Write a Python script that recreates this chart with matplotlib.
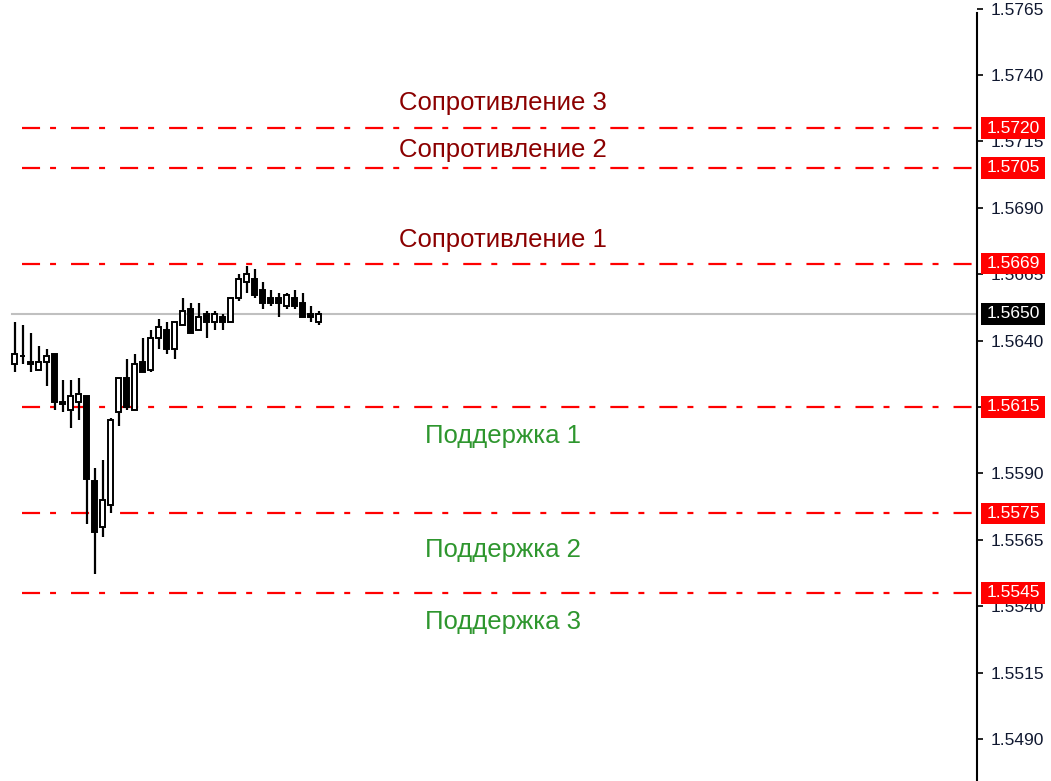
import matplotlib
matplotlib.use("Agg")
import matplotlib.pyplot as plt
from matplotlib.patches import Rectangle

plt.rcParams['font.family'] = ['Liberation Sans', 'DejaVu Sans']
plt.rcParams['lines.scale_dashes'] = False

# свечи: open, high, low, close
opens  = [1.5631, 1.5634, 1.5632, 1.5629, 1.5632, 1.5635, 1.5617, 1.5614, 1.5617, 1.5619,
          1.5587, 1.5570, 1.5578, 1.5613, 1.5626, 1.5614, 1.5632, 1.5629, 1.5641, 1.5644,
          1.5637, 1.5646, 1.5652, 1.5644, 1.5650, 1.5647, 1.5649, 1.5647, 1.5656, 1.5662,
          1.5663, 1.5659, 1.5656, 1.5656, 1.5653, 1.5656, 1.5654, 1.5650, 1.5647]
highs  = [1.5647, 1.5646, 1.5643, 1.5638, 1.5637, 1.5635, 1.5625, 1.5625, 1.5626, 1.5619,
          1.5592, 1.5595, 1.5611, 1.5626, 1.5633, 1.5635, 1.5641, 1.5644, 1.5648, 1.5647,
          1.5647, 1.5656, 1.5654, 1.5654, 1.5651, 1.5651, 1.5650, 1.5656, 1.5665, 1.5668,
          1.5667, 1.5662, 1.5659, 1.5658, 1.5658, 1.5659, 1.5658, 1.5653, 1.5651]
lows   = [1.5628, 1.5631, 1.5628, 1.5629, 1.5623, 1.5614, 1.5613, 1.5607, 1.5610, 1.5571,
          1.5552, 1.5566, 1.5575, 1.5608, 1.5614, 1.5614, 1.5628, 1.5628, 1.5637, 1.5635,
          1.5633, 1.5646, 1.5643, 1.5644, 1.5641, 1.5644, 1.5644, 1.5647, 1.5655, 1.5658,
          1.5656, 1.5652, 1.5653, 1.5649, 1.5652, 1.5652, 1.5649, 1.5647, 1.5646]
closes = [1.5635, 1.5634, 1.5631, 1.5632, 1.5634, 1.5617, 1.5616, 1.5619, 1.5620, 1.5588,
          1.5568, 1.5580, 1.5610, 1.5626, 1.5615, 1.5631, 1.5628, 1.5641, 1.5645, 1.5637,
          1.5647, 1.5651, 1.5643, 1.5649, 1.5647, 1.5650, 1.5647, 1.5656, 1.5663, 1.5665,
          1.5657, 1.5654, 1.5654, 1.5654, 1.5657, 1.5653, 1.5649, 1.5649, 1.5650]

current_price = 1.5650

resist_levels = [1.5720, 1.5705, 1.5669]
support_levels = [1.5615, 1.5575, 1.5545]
resist_names = ['Сопротивление 3', 'Сопротивление 2', 'Сопротивление 1']
support_names = ['Поддержка 1', 'Поддержка 2', 'Поддержка 3']
resist_text_y = [1.57294, 1.57117, 1.56779]
support_text_y = [1.56041, 1.55612, 1.55341]
text_x = 61.0

yticks = [1.5765, 1.5740, 1.5715, 1.5690, 1.5665, 1.5640, 1.5615,
          1.5590, 1.5565, 1.5540, 1.5515, 1.5490]

fig = plt.figure(figsize=(10.51, 7.81), dpi=100)
ax = fig.add_axes([0, 0, 977 / 1051, 1])

x = list(range(len(opens)))
xmin = -14.7 / 8
ax.set_xlim(xmin, xmin + 977 / 8)
ax.set_ylim(1.54742, 1.57682)

# текущая цена
ax.axhline(current_price, xmin=(11.5 / 977), color='#c0c0c0', lw=1.5, zorder=1)

# уровни
dash = (0, (13, 7.2, 4.3, 10.8))
for lv in resist_levels + support_levels:
    ax.hlines(lv, 0.9, xmin + 977 / 8, colors='#ff0000', lw=1.6, linestyles=[dash], zorder=1)

# свечи
for i in x:
    o, h, l, c = opens[i], highs[i], lows[i], closes[i]
    ax.vlines(i, l, h, colors='black', lw=1.6, zorder=2)
    bottom = min(o, c)
    height = max(abs(c - o), 0.00003)
    fc = 'white' if c > o else 'black'
    ax.bar(i, height, bottom=bottom, width=0.62, color=fc, edgecolor='black',
           linewidth=1.4, zorder=3)

for name, y in zip(resist_names, resist_text_y):
    ax.text(text_x, y, name, color='#8b0000', fontsize=18.5, ha='center', va='center')
for name, y in zip(support_names, support_text_y):
    ax.text(text_x, y, name, color='#2e962e', fontsize=18.5, ha='center', va='center')

# ось справа
for s in ['left', 'top', 'bottom']:
    ax.spines[s].set_visible(False)
ax.spines['right'].set_linewidth(1.5)
ax.spines['right'].set_bounds(1.54742, 1.57633)
ax.set_xticks([])
ax.yaxis.tick_right()
ax.set_yticks(yticks)
ax.set_yticklabels(['%.4f' % t for t in yticks])
ax.tick_params(axis='y', length=4, width=1.2, pad=6, labelsize=12.5, labelcolor='#101830')

# метки уровней
trans = ax.get_yaxis_transform()
box_h = 0.00080
box_x0, box_w = 981 / 977, 64 / 977


def price_box(lv, color):
    ax.add_patch(Rectangle((box_x0, lv - box_h / 2), box_w, box_h, transform=trans,
                           facecolor=color, edgecolor='none', clip_on=False, zorder=5))
    ax.text(box_x0 + box_w / 2, lv, '%.4f' % lv, transform=trans, color='white',
            fontsize=12.5, ha='center', va='center', zorder=6, clip_on=False)


for lv in resist_levels + support_levels:
    price_box(lv, '#ff0000')
price_box(current_price, 'black')

fig.savefig('out.png', dpi=100)
